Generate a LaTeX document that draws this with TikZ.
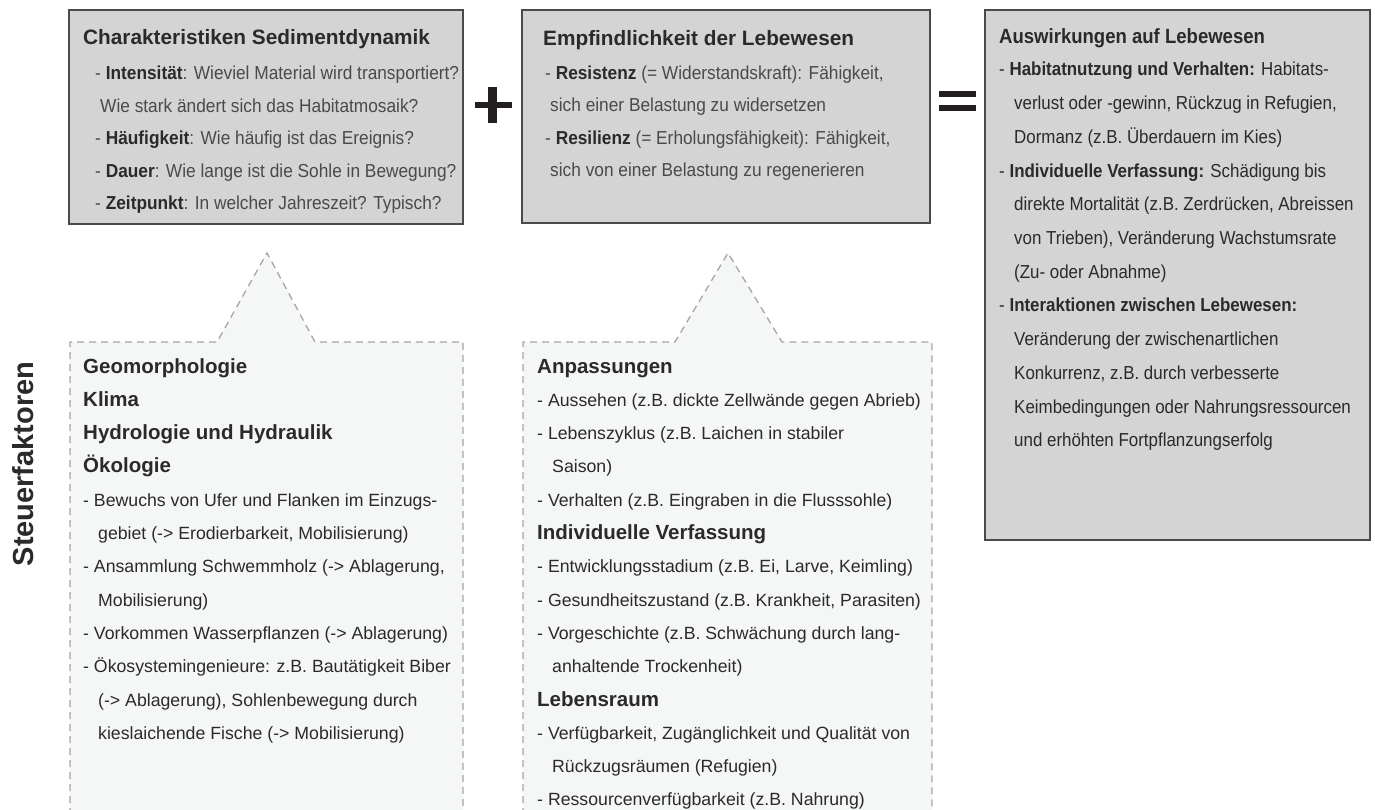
\documentclass[tikz,border=0pt]{standalone}
\usepackage{fontspec}
\setmainfont{Liberation Sans}
\newfontfamily\condfont{Liberation Sans}[FakeStretch=0.92]
\newfontfamily\narrfont{Liberation Sans}[FakeStretch=0.9]
\definecolor{boxfill}{HTML}{D4D4D4}
\definecolor{boxline}{HTML}{4A4A4A}
\definecolor{dfill}{HTML}{F5F6F6}
\definecolor{dline}{HTML}{A6A6A6}
\definecolor{txtgray}{HTML}{4A4A4A}
\definecolor{txtdark}{HTML}{2A2A2A}
\definecolor{signcol}{HTML}{231F20}
\newcommand{\kw}[1]{{\bfseries\color{txtdark}#1}}
\newcommand{\hd}[1]{{\fontsize{20.5}{22}\selectfont\bfseries #1}}
\newcommand{\ind}{\hspace*{15pt}}
\begin{document}
\begin{tikzpicture}[x=1pt,y=-1pt,
  panel/.style={draw=boxline, fill=boxfill, line width=1.5pt},
  dashpanel/.style={fill=dfill, draw=dline, line width=1.3pt, dash pattern=on 7pt off 5pt},
  ttl/.style={anchor=base west, inner sep=0pt, text=txtdark, font=\fontsize{20.8}{22}\selectfont\bfseries},
  bodyA/.style={anchor=base west, inner sep=0pt, text=txtgray, font=\condfont\fontsize{18.8}{20}\selectfont},
  ttlC/.style={anchor=base west, inner sep=0pt, text=txtdark, font=\narrfont\fontsize{20.6}{22}\selectfont\bfseries},
  bodyC/.style={anchor=base west, inner sep=0pt, text=txtdark, font=\narrfont\fontsize{18.8}{20}\selectfont},
  dtext/.style={anchor=base west, inner sep=0pt, text=txtdark, font=\fontsize{17.7}{20}\selectfont},
  signbar/.style={fill=signcol, draw=none}
]
\useasboundingbox (0,0) rectangle (1375,810);
\fill[white] (0,0) rectangle (1375,810);

% top panels
\path[panel] (69,10) rectangle (463,224);
\path[panel] (522,10) rectangle (930,223);
\path[panel] (985,10) rectangle (1370,540);

% plus and equals
\path[signbar] (488,87) rectangle (497,123);
\path[signbar] (475,102) rectangle (512,108);
\path[signbar] (939,91) rectangle (976,97);
\path[signbar] (939,105) rectangle (976,111);

% dashed callouts
\path[dashpanel] (70,815) -- (70,342) -- (217,342) -- (267,253) -- (315,342) -- (463,342) -- (463,815);
\path[dashpanel] (523,815) -- (523,342) -- (675,342) -- (728,253) -- (782,342) -- (932,342) -- (932,815);

% box 1
\node[ttl] (b1t) at (83,45) {Charakteristiken Sedimentdynamik};
\node[bodyA] (b1a) at (95,80) {- \kw{Intensität}: Wieviel Material wird transportiert?};
\node[bodyA] (b1b) at (100,112.5) {Wie stark ändert sich das Habitatmosaik?};
\node[bodyA] (b1c) at (95,145) {- \kw{Häufigkeit}: Wie häufig ist das Ereignis?};
\node[bodyA] (b1d) at (95,177.5) {- \kw{Dauer}: Wie lange ist die Sohle in Bewegung?};
\node[bodyA] (b1e) at (95,210) {- \kw{Zeitpunkt}: In welcher Jahreszeit? Typisch?};

% box 2
\node[ttl] (b2t) at (543,45.5) {Empfindlichkeit der Lebewesen};
\node[bodyA] (b2a) at (545,79.5) {- \kw{Resistenz} (= Widerstandskraft): Fähigkeit,};
\node[bodyA] (b2b) at (550,112) {sich einer Belastung zu widersetzen};
\node[bodyA] (b2c) at (545,144.5) {- \kw{Resilienz} (= Erholungsfähigkeit): Fähigkeit,};
\node[bodyA] (b2d) at (550,177) {sich von einer Belastung zu regenerieren};

% box 3
\node[ttlC] (b3t) at (999,44) {Auswirkungen auf Lebewesen};
\foreach \t [count=\i] in {
  {- \textbf{Habitatnutzung und Verhalten:} Habitats-},
  {\ind verlust oder -gewinn, Rückzug in Refugien,},
  {\ind Dormanz (z.B. Überdauern im Kies)},
  {- \textbf{Individuelle Verfassung:} Schädigung bis},
  {\ind direkte Mortalität (z.B. Zerdrücken, Abreissen},
  {\ind von Trieben), Veränderung Wachstumsrate},
  {\ind (Zu- oder Abnahme)},
  {- \textbf{Interaktionen zwischen Lebewesen:}},
  {\ind Veränderung der zwischenartlichen},
  {\ind Konkurrenz, z.B. durch verbesserte},
  {\ind Keimbedingungen oder Nahrungsressourcen},
  {\ind und erhöhten Fortpflanzungserfolg}}
  \node[bodyC] (b3l\i) at (999,{76+33.7*(\i-1)}) {\t};

% dashed callout 1
\foreach \t [count=\i] in {
  {\hd{Geomorphologie}},
  {\hd{Klima}},
  {\hd{Hydrologie und Hydraulik}},
  {\hd{Ökologie}},
  {- Bewuchs von Ufer und Flanken im Einzugs-},
  {\ind gebiet (-> Erodierbarkeit, Mobilisierung)},
  {- Ansammlung Schwemmholz (-> Ablagerung,},
  {\ind Mobilisierung)},
  {- Vorkommen Wasserpflanzen (-> Ablagerung)},
  {- Ökosystemingenieure: z.B. Bautätigkeit Biber},
  {\ind (-> Ablagerung), Sohlenbewegung durch},
  {\ind kieslaichende Fische (-> Mobilisierung)}}
  \node[dtext] (dl\i) at (83,{373+33.3*(\i-1)}) {\t};

% dashed callout 2
\foreach \t [count=\i] in {
  {\hd{Anpassungen}},
  {- Aussehen (z.B. dickte Zellwände gegen Abrieb)},
  {- Lebenszyklus (z.B. Laichen in stabiler},
  {\ind Saison)},
  {- Verhalten (z.B. Eingraben in die Flusssohle)},
  {\hd{Individuelle Verfassung}},
  {- Entwicklungsstadium (z.B. Ei, Larve, Keimling)},
  {- Gesundheitszustand (z.B. Krankheit, Parasiten)},
  {- Vorgeschichte (z.B. Schwächung durch lang-},
  {\ind anhaltende Trockenheit)},
  {\hd{Lebensraum}},
  {- Verfügbarkeit, Zugänglichkeit und Qualität von},
  {\ind Rückzugsräumen (Refugien)},
  {- Ressourcenverfügbarkeit (z.B. Nahrung)}}
  \node[dtext] (dm\i) at (537,{373+33.3*(\i-1)}) {\t};

% side label
\node[rotate=90, anchor=base, inner sep=0pt, text=txtdark, font=\fontsize{29}{30}\selectfont\bfseries] (steuer) at (33,464) {Steuerfaktoren};
\end{tikzpicture}
\end{document}
